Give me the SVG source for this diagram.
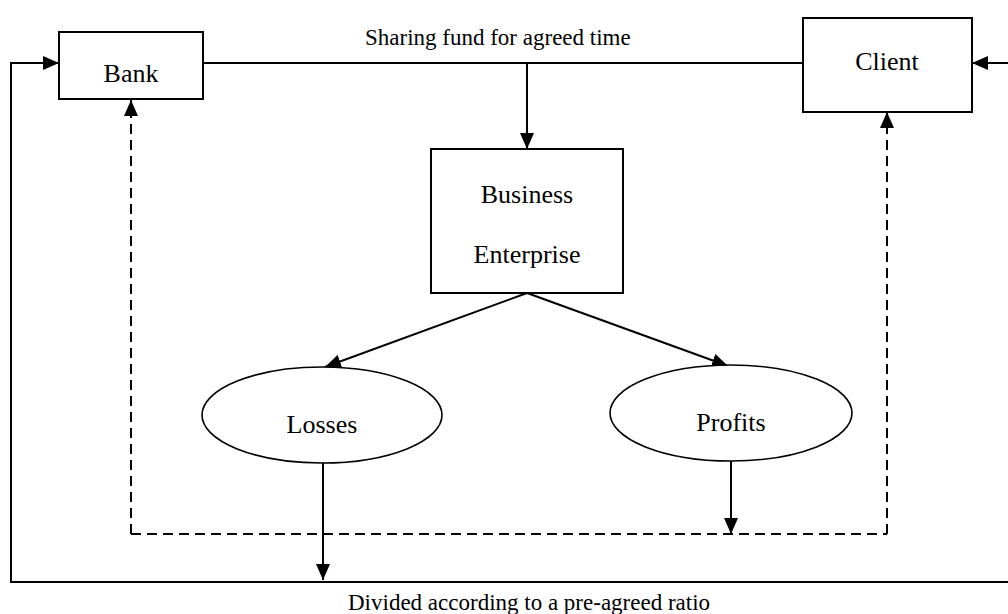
<svg xmlns="http://www.w3.org/2000/svg" width="1008" height="614" viewBox="0 0 1008 614">
<style>
.box{fill:#fff;stroke:#000;stroke-width:2}
.ell{fill:#fff;stroke:#000;stroke-width:1.6}
.ln{fill:none;stroke:#000;stroke-width:2}
.dash{fill:none;stroke:#000;stroke-width:2;stroke-dasharray:10 6}
.lbl{font-family:"Liberation Serif","Times New Roman",serif;font-size:26px;fill:#000;text-anchor:middle}
.txt{font-family:"Liberation Serif","Times New Roman",serif;font-size:23px;fill:#000}
</style>
<defs>
<marker id="ah" viewBox="0 0 16 14" refX="16" refY="7" markerWidth="16" markerHeight="14" markerUnits="userSpaceOnUse" orient="auto">
<path d="M0,0 L16,7 L0,14 Z" fill="#000"/>
</marker>
</defs>
<rect width="1008" height="614" fill="#fff"/>
<g id="connectors">
<line class="ln" x1="203" y1="63" x2="803" y2="63"/>
<line class="ln" x1="527" y1="63" x2="527" y2="149" marker-end="url(#ah)"/>
<polyline class="ln" points="323,582 11,582 11,63 59,63" marker-end="url(#ah)"/>
<line class="ln" x1="11" y1="582" x2="1008" y2="582"/>
<line class="ln" x1="1008" y1="63" x2="972" y2="63" marker-end="url(#ah)"/>
<line class="ln" x1="527" y1="293" x2="325" y2="367" marker-end="url(#ah)"/>
<line class="ln" x1="527" y1="293" x2="728" y2="366" marker-end="url(#ah)"/>
<line class="ln" x1="323" y1="463" x2="323" y2="580" marker-end="url(#ah)"/>
<line class="ln" x1="731" y1="461" x2="731" y2="534" marker-end="url(#ah)"/>
<line class="dash" x1="131" y1="534" x2="887" y2="534"/>
<line class="dash" x1="131" y1="534" x2="131" y2="100" marker-end="url(#ah)"/>
<line class="dash" x1="887" y1="534" x2="887" y2="112" marker-end="url(#ah)"/>
<text class="txt" x="365" y="45">Sharing fund for agreed time</text>
<text class="txt" x="348" y="610" font-size="24">Divided according to a pre-agreed ratio</text>
</g>
<g id="bank">
<rect class="box" x="59" y="32" width="144" height="67"/>
<text class="lbl" x="131" y="82">Bank</text>
</g>
<g id="client">
<rect class="box" x="803" y="18" width="169" height="94"/>
<text class="lbl" x="887" y="70">Client</text>
</g>
<g id="business">
<rect class="box" x="431" y="149" width="192" height="144"/>
<text class="lbl" x="527" y="203">Business</text>
<text class="lbl" x="527" y="263">Enterprise</text>
</g>
<g id="losses">
<ellipse class="ell" cx="322" cy="415" rx="120" ry="48"/>
<text class="lbl" x="322" y="433">Losses</text>
</g>
<g id="profits">
<ellipse class="ell" cx="731" cy="413" rx="121" ry="48"/>
<text class="lbl" x="731" y="431">Profits</text>
</g>
</svg>
